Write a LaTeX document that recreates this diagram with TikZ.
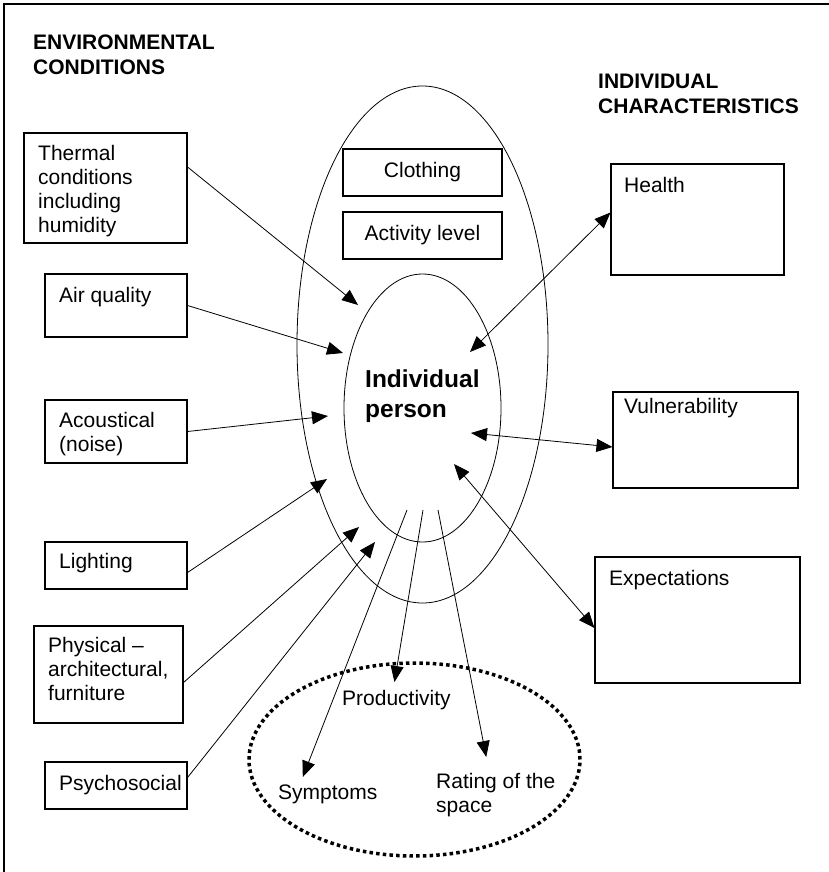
\documentclass[tikz,border=0pt]{standalone}
\usepackage{fontspec}
\setmainfont{Liberation Sans}
\usetikzlibrary{arrows.meta}
\usetikzlibrary{shapes.geometric}

\begin{document}
\begin{tikzpicture}[x=1pt, y=-1pt, >={Triangle[length=16pt,width=13pt]},
box/.style={draw, line width=1.1pt, inner sep=0pt, font=\fontsize{21}{24}\selectfont},
txt/.style={anchor=north west, inner sep=0pt, align=left, font=\fontsize{21}{24}\selectfont},
title/.style={txt, font=\fontsize{21}{25}\selectfont\bfseries},
ring/.style={draw, ellipse, line width=0.8pt, inner sep=0pt},
link/.style={line width=0.8pt}]

    \useasboundingbox (0,0) rectangle (829,872);
    \draw[line width=1.1pt] (4,872) -- (4,4) -- (829,4);

    % the person, in two rings
    \node[ring, minimum width=251pt, minimum height=517pt] (outer) at (422.5,344.5) {};
    \node[ring, minimum width=157pt, minimum height=268pt] (inner) at (422.5,408) {};
    \node[ring, line width=3.5pt, dash pattern=on 3.5pt off 3.2pt, minimum width=331pt, minimum height=193pt] (outcome) at (414.5,759.5) {};

    \node[txt, font=\fontsize{24.5}{30}\selectfont\bfseries] (person) at (365,370) {Individual\\person};
    \node[box, minimum width=159pt, minimum height=47pt] (clothing) at (422.5,172.5) {Clothing};
    \node[box, minimum width=159pt, minimum height=47pt] (activity) at (422.5,235.5) {Activity level};

    % environmental conditions
    \node[title] (envtitle) at (33,35) {ENVIRONMENTAL\\CONDITIONS};
    \node[box, minimum width=163pt, minimum height=110pt] (thermal) at (105.5,188) {};
    \node[box, minimum width=142pt, minimum height=63pt] (air) at (116,305.5) {};
    \node[box, minimum width=142pt, minimum height=63pt] (acoustic) at (116,431.5) {};
    \node[box, minimum width=142pt, minimum height=47pt] (lighting) at (116,565.5) {};
    \node[box, minimum width=149pt, minimum height=97pt] (physical) at (108.5,674.5) {};
    \node[box, minimum width=142pt, minimum height=47pt] (psycho) at (116,785.5) {};

    \node[txt] (thermaltxt) at (38,145) {Thermal\\conditions\\including\\humidity};
    \node[txt] (airtxt) at (59,287) {Air quality};
    \node[txt] (acoustictxt) at (59,412) {Acoustical\\(noise)};
    \node[txt] (lightingtxt) at (59,553) {Lighting};
    \node[txt] (physicaltxt) at (48,637) {Physical –\\architectural,\\furniture};
    \node[txt] (psychotxt) at (59,775) {Psychosocial};

    % individual characteristics
    \node[title] (indtitle) at (598,74) {INDIVIDUAL\\CHARACTERISTICS};
    \node[box, minimum width=173pt, minimum height=111pt] (health) at (697.5,219.5) {};
    \node[box, minimum width=185pt, minimum height=96pt] (vulner) at (705.5,440) {};
    \node[box, minimum width=205pt, minimum height=126pt] (expect) at (697.5,620) {};

    \node[txt] (healthtxt) at (624,177) {Health};
    \node[txt] (vulnertxt) at (624,398) {Vulnerability};
    \node[txt] (expecttxt) at (609,570) {Expectations};

    % outcomes
    \node[txt] (productivity) at (342,690) {Productivity};
    \node[txt] (symptoms) at (278,785) {Symptoms};
    \node[txt] (rating) at (436,773) {Rating of the\\space};

    % arrow ends inside the rings
    \coordinate (t1) at (358,305);
    \coordinate (t2) at (343,353);
    \coordinate (t3) at (328,416);
    \coordinate (t4) at (327,479);
    \coordinate (t5) at (359,527);
    \coordinate (t6) at (375,542);
    \coordinate (h1) at (470,352);
    \coordinate (v1) at (471,433);
    \coordinate (e1) at (454,464);
    \coordinate (o1) at (407,510);
    \coordinate (o2) at (423,510);
    \coordinate (o3) at (438,510);

    \draw[link, ->] ([yshift=21pt]thermal.east) -- (t1);
    \draw[link, ->] (air.east) -- (t2);
    \draw[link, ->] (acoustic.east) -- (t3);
    \draw[link, ->] ([yshift=-7pt]lighting.east) -- (t4);
    \draw[link, ->] ([yshift=-8pt]physical.east) -- (t5);
    \draw[link, ->] ([yshift=8pt]psycho.east) -- (t6);

    \draw[link, <->] (h1) -- ([yshift=7pt]health.west);
    \draw[link, <->] (v1) -- ([yshift=-7pt]vulner.west);
    \draw[link, <->] (e1) -- ([yshift=-8pt]expect.west);

    \draw[link, ->] (o1) -- ([shift={(-25pt,8pt)}]symptoms.north);
    \draw[link, ->] (o2) -- ([shift={(-2pt,8pt)}]productivity.north);
    \draw[link, ->] (o3) -- ([shift={(-9.5pt,16pt)}]rating.north);

\end{tikzpicture}
\end{document}
